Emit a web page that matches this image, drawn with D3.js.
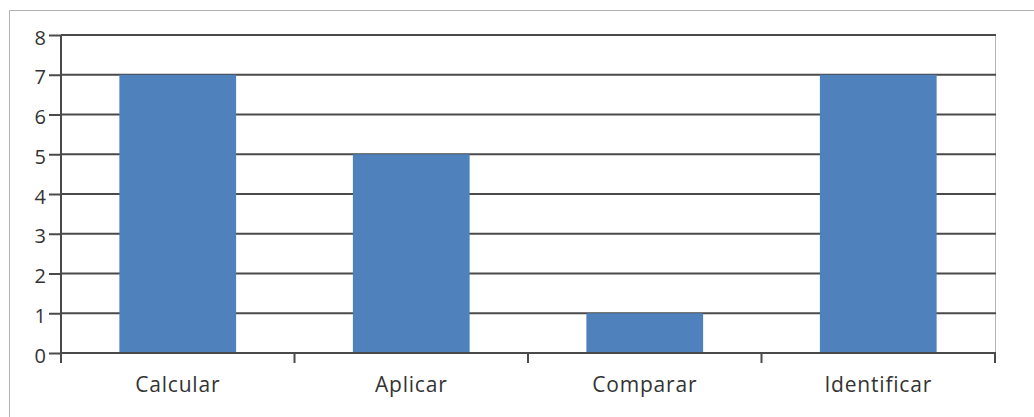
<!DOCTYPE html>
<html><head><meta charset="utf-8">
<script src="https://cdn.jsdelivr.net/npm/d3@7"></script>
<style>body{margin:0;background:#fff}svg{display:block}</style>
</head><body>
<svg id="c" width="1034" height="417"></svg>
<script>
const categories = ["Calcular", "Aplicar", "Comparar", "Identificar"];
const values = [7, 5, 1, 7];
const yTicks = [0, 1, 2, 3, 4, 5, 6, 7, 8];

const svg = d3.select("#c");
const m = {left: 61, right: 995, top: 35, bottom: 353};
const x = d3.scaleBand().domain(categories).range([m.left, m.right]).paddingInner(0.5).paddingOuter(0.25);
const y = d3.scaleLinear().domain([0, 8]).range([m.bottom, m.top]);
const FONT = "Open Sans, sans-serif";

// outer frame
svg.append("path").attr("d", "M9.5,417 V10.5 H1034").attr("fill", "none").attr("stroke", "#b0b0b0").attr("stroke-width", 1);

// right plot border
svg.append("line").attr("x1", m.right + 0.5).attr("x2", m.right + 0.5).attr("y1", m.top).attr("y2", m.bottom)
  .attr("stroke", "#b5b5b5").attr("stroke-width", 1);

// gridlines
svg.append("g").selectAll("line").data(yTicks.filter(d => d > 0)).join("line")
  .attr("x1", m.left).attr("x2", m.right + 1)
  .attr("y1", d => y(d)).attr("y2", d => y(d))
  .attr("stroke", "#4a4a4a").attr("stroke-width", 2);

// bars
svg.append("g").selectAll("rect").data(values).join("rect")
  .attr("x", (d, i) => x(categories[i]))
  .attr("width", x.bandwidth())
  .attr("y", d => y(d))
  .attr("height", d => y(0) - y(d))
  .attr("fill", "#4f81bd");

// y axis
const yAxis = d3.axisLeft(y).tickValues(yTicks).tickSize(12).tickPadding(3).tickFormat(d3.format("d"));
const gy = svg.append("g").attr("transform", `translate(${m.left},0)`).call(yAxis);
gy.select(".domain").attr("stroke", "#4a4a4a").attr("stroke-width", 2).attr("d", `M0,${m.top}V${m.bottom}`);
gy.selectAll(".tick line").attr("stroke", "#4a4a4a").attr("stroke-width", 2);
gy.selectAll(".tick text").attr("font-family", FONT).attr("font-size", 20).attr("fill", "#333").attr("dy", "0.45em");

// x axis
const step = x.step();
const boundaries = d3.range(categories.length + 1).map(i => m.left + i * step);
svg.append("line").attr("x1", m.left).attr("x2", m.right + 1).attr("y1", m.bottom).attr("y2", m.bottom)
  .attr("stroke", "#4a4a4a").attr("stroke-width", 2);
svg.append("g").selectAll("line").data(boundaries).join("line")
  .attr("x1", d => d).attr("x2", d => d).attr("y1", m.bottom).attr("y2", m.bottom + 10)
  .attr("stroke", "#4a4a4a").attr("stroke-width", 2);
svg.append("g").selectAll("text").data(categories).join("text")
  .attr("x", d => x(d) + x.bandwidth() / 2)
  .attr("y", 392)
  .attr("text-anchor", "middle")
  .attr("font-family", FONT).attr("font-size", 21).attr("letter-spacing", 0.8).attr("fill", "#333")
  .text(d => d);
</script>
</body></html>
